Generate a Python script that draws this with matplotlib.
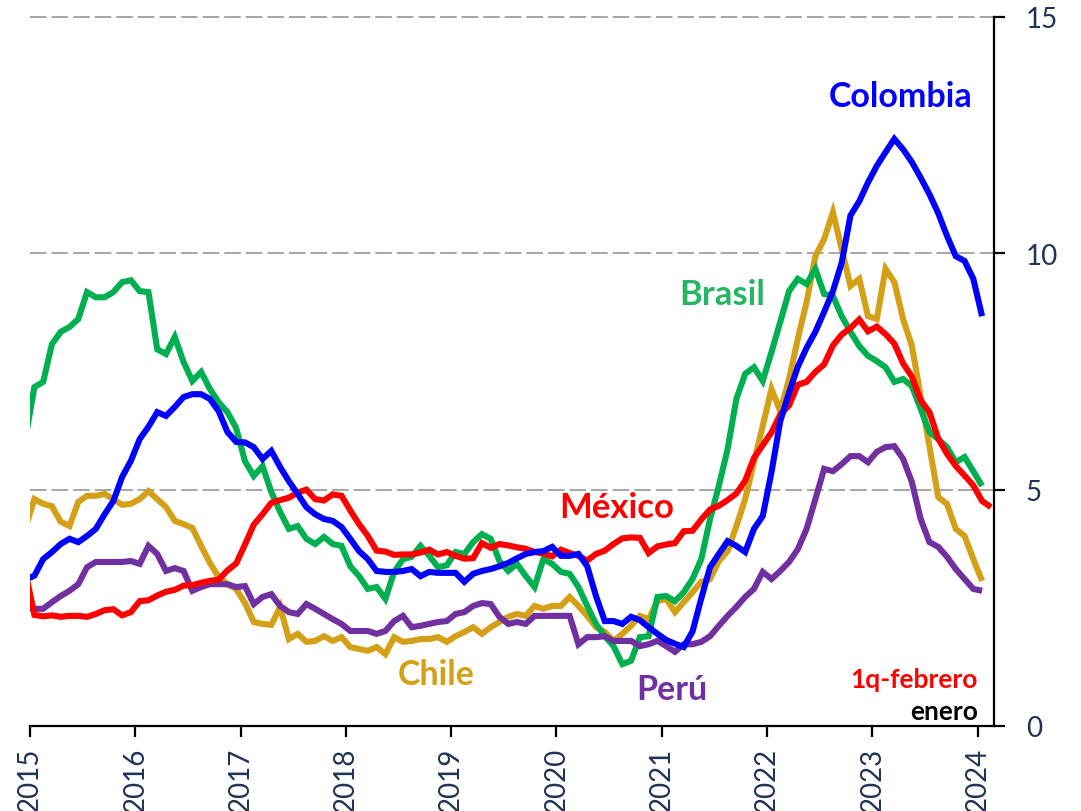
import matplotlib
matplotlib.use("Agg")
import matplotlib.pyplot as plt
import numpy as np

# Monthly data: Dec-2014 .. Jan-2024 (Mexico to 1q-Feb-2024)
start_year = 2014
start_month = 12

colombia = [3.10,
    3.18, 3.53, 3.68, 3.85, 3.96, 3.89, 4.02, 4.17, 4.48, 4.76, 5.27, 5.61,
    6.07, 6.33, 6.64, 6.56, 6.75, 6.96, 7.02, 7.02, 6.92, 6.66, 6.22, 6.01,
    6.00, 5.90, 5.65, 5.82, 5.48, 5.18, 4.91, 4.63, 4.48, 4.38, 4.34, 4.21,
    3.96, 3.70, 3.53, 3.28, 3.26, 3.26, 3.28, 3.32, 3.17, 3.26, 3.24, 3.24,
    3.24, 3.05, 3.22, 3.28, 3.32, 3.38, 3.45, 3.55, 3.64, 3.68, 3.70, 3.79,
    3.60, 3.60, 3.64, 3.38, 2.75, 2.22, 2.22, 2.16, 2.31, 2.24, 2.09, 1.95,
    1.82, 1.74, 1.67, 2.00, 2.70, 3.36, 3.64, 3.91, 3.81, 3.68, 4.17, 4.44,
    5.37, 6.45, 7.05, 7.60, 8.00, 8.34, 8.76, 9.20, 9.80, 10.80, 11.10, 11.50,
    11.85, 12.14, 12.42, 12.20, 11.93, 11.60, 11.25, 10.85, 10.37, 9.94, 9.84, 9.46,
    8.67]

brasil = [6.10,
    7.17, 7.28, 8.08, 8.34, 8.44, 8.61, 9.18, 9.07, 9.07, 9.18, 9.39, 9.43,
    9.20, 9.18, 7.97, 7.87, 8.23, 7.70, 7.30, 7.49, 7.13, 6.85, 6.64, 6.30,
    5.60, 5.29, 5.50, 4.95, 4.53, 4.17, 4.23, 3.96, 3.85, 4.00, 3.85, 3.81,
    3.38, 3.17, 2.90, 2.94, 2.69, 3.26, 3.53, 3.58, 3.81, 3.60, 3.36, 3.40,
    3.68, 3.64, 3.89, 4.06, 3.96, 3.49, 3.28, 3.43, 3.17, 2.94, 3.53, 3.43,
    3.26, 3.22, 2.94, 2.54, 2.16, 1.90, 1.69, 1.31, 1.38, 1.88, 1.90, 2.73,
    2.75, 2.64, 2.83, 3.11, 3.53, 4.38, 5.08, 5.86, 6.92, 7.45, 7.59, 7.30,
    7.91, 8.55, 9.20, 9.46, 9.35, 9.67, 9.14, 9.10, 8.67, 8.34, 8.04, 7.83,
    7.72, 7.59, 7.28, 7.34, 7.19, 6.71, 6.22, 6.07, 5.90, 5.58, 5.69, 5.39,
    5.08]

chile = [4.20,
    4.80, 4.70, 4.65, 4.32, 4.23, 4.74, 4.87, 4.87, 4.91, 4.80, 4.68, 4.70,
    4.80, 4.97, 4.80, 4.63, 4.34, 4.27, 4.19, 3.81, 3.45, 3.15, 3.00, 2.90,
    2.60, 2.20, 2.16, 2.14, 2.52, 1.84, 1.95, 1.78, 1.80, 1.90, 1.80, 1.88,
    1.67, 1.63, 1.59, 1.67, 1.52, 1.88, 1.78, 1.80, 1.84, 1.84, 1.88, 1.78,
    1.90, 1.99, 2.09, 1.95, 2.09, 2.20, 2.31, 2.37, 2.33, 2.54, 2.48, 2.54,
    2.54, 2.73, 2.54, 2.33, 2.09, 1.99, 1.80, 1.95, 2.12, 2.33, 2.26, 2.64,
    2.69, 2.41, 2.62, 2.83, 3.05, 3.11, 3.49, 3.70, 4.23, 4.80, 5.58, 6.35,
    7.13, 6.66, 7.34, 8.19, 8.97, 9.94, 10.30, 10.87, 10.09, 9.31, 9.46, 8.67,
    8.61, 9.67, 9.39, 8.61, 8.04, 6.98, 5.92, 4.84, 4.70, 4.17, 4.02, 3.53,
    3.07]

peru = [2.50,
    2.48, 2.48, 2.62, 2.75, 2.86, 3.00, 3.36, 3.47, 3.47, 3.47, 3.47, 3.49,
    3.43, 3.81, 3.64, 3.28, 3.34, 3.28, 2.86, 2.94, 3.00, 3.00, 3.00, 2.94,
    2.96, 2.58, 2.73, 2.79, 2.54, 2.41, 2.37, 2.58, 2.48, 2.37, 2.26, 2.16,
    2.01, 2.01, 2.01, 1.95, 2.01, 2.22, 2.33, 2.09, 2.12, 2.16, 2.20, 2.22,
    2.37, 2.41, 2.54, 2.60, 2.58, 2.31, 2.16, 2.20, 2.16, 2.33, 2.33, 2.33,
    2.33, 2.33, 1.73, 1.88, 1.88, 1.90, 1.80, 1.80, 1.80, 1.69, 1.73, 1.80,
    1.69, 1.57, 1.73, 1.73, 1.78, 1.90, 2.12, 2.33, 2.52, 2.73, 2.90, 3.26,
    3.11, 3.28, 3.47, 3.74, 4.17, 4.80, 5.44, 5.39, 5.54, 5.71, 5.71, 5.58,
    5.80, 5.90, 5.92, 5.65, 5.16, 4.38, 3.89, 3.79, 3.58, 3.32, 3.11, 2.90,
    2.86]

mexico = [3.24,
    2.35, 2.32, 2.34, 2.31, 2.33, 2.33, 2.31, 2.37, 2.45, 2.47, 2.34, 2.41,
    2.64, 2.66, 2.76, 2.84, 2.88, 2.97, 2.98, 3.03, 3.07, 3.10, 3.29, 3.44,
    3.84, 4.26, 4.48, 4.72, 4.78, 4.83, 4.94, 5.00, 4.80, 4.77, 4.90, 4.87,
    4.56, 4.27, 4.02, 3.71, 3.69, 3.62, 3.63, 3.63, 3.67, 3.73, 3.63, 3.68,
    3.60, 3.54, 3.55, 3.87, 3.77, 3.85, 3.82, 3.78, 3.75, 3.68, 3.65, 3.59,
    3.73, 3.66, 3.60, 3.50, 3.64, 3.71, 3.85, 3.97, 3.99, 3.98, 3.66, 3.80,
    3.84, 3.87, 4.12, 4.13, 4.37, 4.58, 4.66, 4.78, 4.92, 5.19, 5.67, 5.94,
    6.21, 6.59, 6.78, 7.22, 7.28, 7.49, 7.65, 8.05, 8.28, 8.42, 8.60, 8.35,
    8.45, 8.29, 8.09, 7.67, 7.39, 6.89, 6.64, 6.08, 5.76, 5.50, 5.30, 5.09,
    4.76, 4.63]

year_ticks = list(range(2015, 2025))
y_ticks = [0, 5, 10, 15]

def month_x(n):
    # mid-month position in fractional years
    return np.array([start_year + (start_month - 1 + k + 0.5) / 12.0 for k in range(n)])

W, H = 1081, 812
fig = plt.figure(figsize=(W / 100, H / 100), dpi=100)
ax = fig.add_axes([30 / W, 1 - 727 / H, (994 - 30) / W, (727 - 18) / H])

navy = "#1F3356"
series = [
    (chile, "#D4A017"),
    (brasil, "#00B050"),
    (peru, "#7030A0"),
    (mexico, "#FF0000"),
    (colombia, "#0000FF"),
]
for vals, col in series:
    ax.plot(month_x(len(vals)), vals, color=col, lw=4.4, solid_joinstyle="miter",
            solid_capstyle="butt", zorder=3)

for yv in [5, 10, 15]:
    ax.axhline(yv, color="#A6A6A6", lw=1.4, linestyle=(0, (8.5, 2.6)),
               zorder=1, clip_on=False)

ax.set_xlim(2015.0, 2015.0 + 964 / 105.3)
ax.set_ylim(0, 15)

ax.spines["left"].set_visible(False)
ax.spines["top"].set_visible(False)
ax.spines["bottom"].set_linewidth(1.6)
ax.spines["right"].set_linewidth(1.6)

ax.set_xticks(year_ticks)
ax.set_xticklabels([str(y) for y in year_ticks], rotation=90, fontsize=20,
                   family="Lato", color=navy)
ax.tick_params(axis="x", direction="out", length=8, width=1.6, pad=7)
ax.yaxis.tick_right()
ax.set_yticks(y_ticks)
ax.set_yticklabels([str(v) for v in y_ticks], fontsize=20, family="Lato", color=navy)
ax.tick_params(axis="y", direction="out", length=8, width=1.6, pad=15)

lbl = dict(family="Lato", fontweight="bold", ha="center", va="center")
ax.text(2023.27, 13.33, "Colombia", color="#0000FF", fontsize=24.5, **lbl)
ax.text(2021.57, 9.14, "Brasil", color="#26B562", fontsize=25, **lbl)
ax.text(2020.57, 4.63, "México", color="#FF0000", fontsize=25, **lbl)
ax.text(2018.86, 1.10, "Chile", color="#D4A017", fontsize=24.5, **lbl)
ax.text(2021.10, 0.78, "Perú", color="#7030A0", fontsize=24.5, **lbl)
ax.text(2024.0, 0.99, "1q-febrero", color="#FF0000", fontsize=19, family="Lato",
        fontweight="bold", ha="right", va="center")
ax.text(2024.0, 0.32, "enero", color="black", fontsize=19, family="Lato",
        fontweight="bold", ha="right", va="center")

fig.savefig("out.png", dpi=100)
